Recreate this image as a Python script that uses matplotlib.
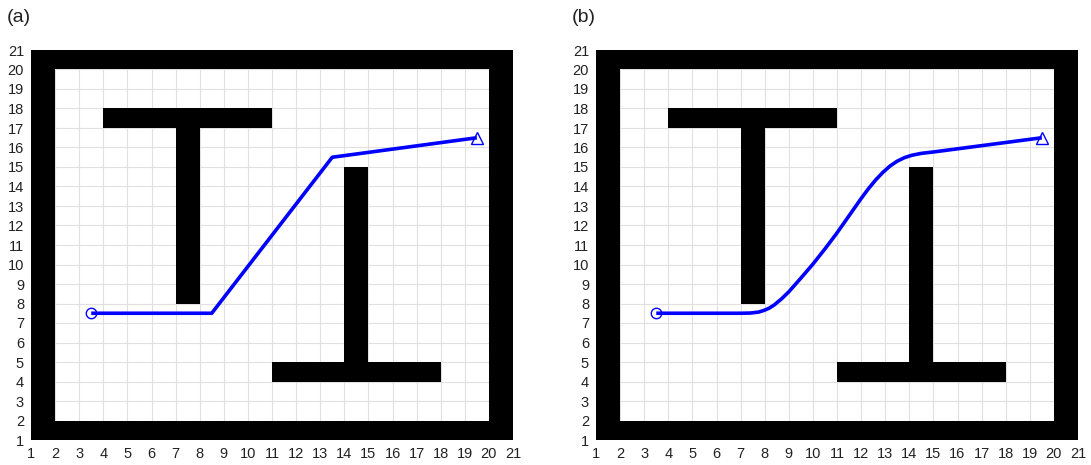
import matplotlib.pyplot as plt
from matplotlib.patches import Rectangle

plt.rcParams['font.family'] = ['Liberation Sans', 'DejaVu Sans']

# map extent and obstacles (x0, y0, x1, y1)
x_range = (1, 21)
y_range = (1, 21)
walls = [
    (1, 1, 21, 2),     # bottom border
    (1, 20, 21, 21),   # top border
    (1, 1, 2, 21),     # left border
    (20, 1, 21, 21),   # right border
    (4, 17, 11, 18),   # T top bar
    (7, 8, 8, 17),     # T stem
    (11, 4, 18, 5),    # inverted T base
    (14, 5, 15, 15),   # inverted T stem
]

start = (3.5, 7.5)
goal = (19.5, 16.5)

# (a) raw polyline path
path_a_x = [3.5, 8.5, 13.5, 19.5]
path_a_y = [7.5, 7.5, 15.5, 16.5]

# (b) smoothed path
path_b_x = [3.5, 7.0, 7.4, 7.75, 8.0, 8.2, 8.4, 8.7, 9.0, 9.5, 10.0, 10.5,
            11.0, 11.5, 12.0, 12.3, 12.6, 12.9, 13.2, 13.5, 13.8, 14.1,
            14.5, 15.0, 19.5]
path_b_y = [7.5, 7.5, 7.51, 7.56, 7.66, 7.77, 7.93, 8.24, 8.6, 9.3, 10.02,
            10.8, 11.62, 12.5, 13.38, 13.88, 14.33, 14.72, 15.05, 15.3,
            15.48, 15.6, 15.7, 15.77, 16.5]

panels = [("(a)", path_a_x, path_a_y, [31, 50, 482, 390]),
          ("(b)", path_b_x, path_b_y, [596, 50, 482, 390])]

W, H = 1091, 465
fig = plt.figure(figsize=(W / 100, H / 100), dpi=100)

for label, px, py, (l, t, w, h) in panels:
    ax = fig.add_axes([l / W, (H - t - h) / H, w / W, h / H])
    ax.set_xlim(*x_range)
    ax.set_ylim(*y_range)
    ax.set_xticks(list(range(x_range[0], x_range[1] + 1)))
    ax.set_yticks(list(range(y_range[0], y_range[1] + 1)))
    ax.grid(True, color='#e0e0e0', linewidth=0.8)
    ax.set_axisbelow(True)
    ax.tick_params(length=0, labelsize=10.5, labelcolor='#222222', pad=5)
    for s in ax.spines.values():
        s.set_visible(False)

    for x0, y0, x1, y1 in walls:
        ax.add_patch(Rectangle((x0, y0), x1 - x0, y1 - y0, facecolor='black',
                               edgecolor='none', zorder=2))

    ax.plot(px, py, color='#0000ff', linewidth=2.6, zorder=3,
            solid_capstyle='butt', solid_joinstyle='round')
    ax.plot(*start, marker='o', markersize=7.5, markerfacecolor='none',
            markeredgecolor='#0000ff', markeredgewidth=1, zorder=4)
    ax.plot(*goal, marker='^', markersize=8, markerfacecolor='none',
            markeredgecolor='#0000ff', markeredgewidth=1, zorder=4)

    fig.text((l - 24) / W, 1 - 18 / H, label, fontsize=14, va='center',
             ha='left', color='#222222')

fig.savefig('out.png', dpi=100)
